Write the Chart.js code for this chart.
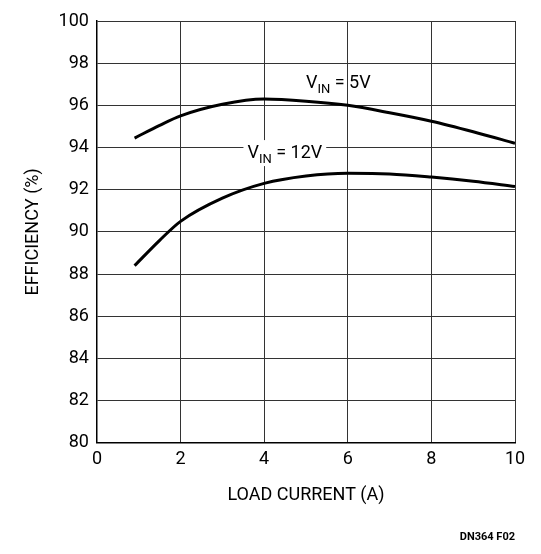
<!DOCTYPE html>
<html><head><meta charset="utf-8">
<script src="https://cdn.jsdelivr.net/npm/chart.js@4"></script>
<style>html,body{margin:0;background:#fff}#w{width:541px;height:554px;position:relative}</style>
</head><body><div id="w"><canvas id="c"></canvas></div>
<script>
const xs = [0.9, 1.5, 2, 3, 4, 5, 6, 7, 8, 9, 10];
const eff5V = [94.45, 95.05, 95.5, 96.05, 96.3, 96.2, 96.0, 95.65, 95.25, 94.75, 94.2];
const eff12V = [88.4, 89.6, 90.5, 91.6, 92.3, 92.65, 92.78, 92.75, 92.6, 92.4, 92.15];
const xTicks = [0,2,4,6,8,10];
const yTicks = [80,82,84,86,88,90,92,94,96,98,100];
const F = "Roboto, 'Liberation Sans', sans-serif";
const labels = {
  id:'lbl',
  afterDatasetsDraw(ch){
    const c=ch.ctx, x=ch.scales.x, y=ch.scales.y;
    function lab(xv,yv,sub,rest,bg){
      c.save(); c.fillStyle='#000'; c.textBaseline='alphabetic';
      const px=x.getPixelForValue(xv), py=y.getPixelForValue(yv);
      c.font='18px '+F; const wV=c.measureText('V').width;
      c.font='13px '+F; const wS=c.measureText(sub).width;
      c.font='18px '+F; const wR=c.measureText(rest).width;
      if(bg){c.fillStyle='#fff'; c.fillRect(px-4,py-18,wV+wS+wR+8,26); c.fillStyle='#000';}
      c.fillText('V',px,py);
      c.font='13px '+F; c.fillText(sub,px+wV,py+5);
      c.font='18px '+F; c.fillText(rest,px+wV+wS,py);
      c.restore();
    }
    lab(5.0,96.8,'IN',' = 5V',false);
    lab(3.6,93.5,'IN',' = 12V',true);
    c.save(); c.font='bold 11px '+F; c.fillStyle='#000'; c.textAlign='right';
    c.fillText('DN364 F02',515,540); c.restore();
  }
};
const mk=(d)=>({data:xs.map((v,i)=>({x:v,y:d[i]})),borderColor:'#000',borderWidth:3,pointRadius:0,cubicInterpolationMode:'monotone',fill:false});
new Chart(document.getElementById('c'),{
  type:'line',
  data:{datasets:[mk(eff5V),mk(eff12V)]},
  plugins:[labels],
  options:{responsive:true,maintainAspectRatio:false,animation:false,
    layout:{padding:{top:21,right:26,bottom:44,left:19}},
    plugins:{legend:{display:false},tooltip:{enabled:false}},
    scales:{
      x:{type:'linear',min:0,max:10,afterBuildTicks:a=>{a.ticks=xTicks.map(v=>({value:v}))},
        grid:{color:'#333',lineWidth:1,drawTicks:false},border:{color:'#000',width:1.5},
        ticks:{color:'#000',font:{family:F,size:18},padding:6},
        title:{display:true,text:'LOAD CURRENT (A)',color:'#000',font:{family:F,size:18},padding:{top:8}}},
      y:{min:80,max:100,afterBuildTicks:a=>{a.ticks=yTicks.map(v=>({value:v}))},
        grid:{color:'#333',lineWidth:1,drawTicks:false},border:{color:'#000',width:1.5},
        ticks:{color:'#000',font:{family:F,size:18},padding:8},
        title:{display:true,text:'EFFICIENCY (%)',color:'#000',font:{family:F,size:18},padding:{bottom:6}}}
    }}
});
</script></body></html>
